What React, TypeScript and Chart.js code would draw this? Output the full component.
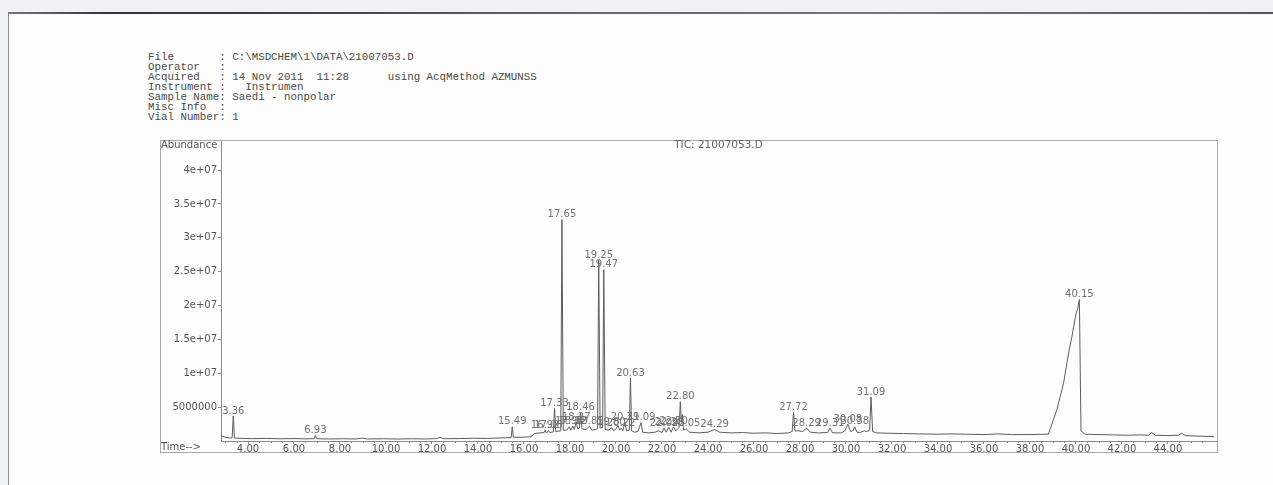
import React, { useEffect, useRef } from 'react';
import { Chart, registerables } from 'chart.js';

Chart.register(...registerables);

// Report header printed above the chromatogram
const headerLines = [
  'File       : C:\\MSDCHEM\\1\\DATA\\21007053.D',
  'Operator   :',
  'Acquired   : 14 Nov 2011  11:28      using AcqMethod AZMUNSS',
  'Instrument :   Instrumen',
  'Sample Name: Saedi - nonpolar',
  'Misc Info  :',
  'Vial Number: 1',
];

const chartTitle = 'TIC: 21007053.D';
const yAxisTitle = 'Abundance';
const xAxisTitle = 'Time-->';

// Total ion current trace: retention time (min) and abundance (counts)
const retentionTimes = [
  2.83, 3.0, 3.2, 3.31, 3.36, 3.41, 3.7, 4.2, 4.8, 5.4, 6.0, 6.5, 6.88, 6.93, 6.98,
  7.5, 8.1, 8.7, 8.95, 9.2, 9.9, 10.5, 11.1, 11.7, 12.2, 12.35, 12.5, 13.2, 13.8, 14.4,
  15.0, 15.44, 15.49, 15.54, 15.9, 16.3, 16.45, 16.7, 16.87, 16.92, 16.97, 17.01, 17.06, 17.12,
  17.28, 17.33, 17.38, 17.6, 17.65, 17.71, 17.86, 17.97, 18.04, 18.12, 18.19, 18.27, 18.34,
  18.41, 18.46, 18.52, 18.7, 18.85, 18.95, 19.1, 19.2, 19.25, 19.31, 19.42, 19.47, 19.53,
  19.7, 19.8, 19.9, 20.0, 20.09, 20.16, 20.22, 20.3, 20.39, 20.46, 20.58, 20.63, 20.68,
  20.8, 20.95, 21.09, 21.16, 21.4, 21.7, 21.85, 22.0, 22.09, 22.18, 22.3, 22.4, 22.5, 22.6,
  22.74, 22.8, 22.84, 22.88, 22.94, 23.05, 23.2, 23.6, 24.0, 24.29, 24.5, 25.0, 25.5, 26.0,
  26.5, 27.0, 27.5, 27.66, 27.72, 27.78, 27.95, 28.12, 28.29, 28.45, 28.8, 29.2, 29.31,
  29.42, 29.8, 29.95, 30.08, 30.2, 30.3, 30.38, 30.48, 30.6, 30.8, 30.9, 31.03, 31.09,
  31.16, 31.3, 31.8, 32.5, 33.2, 34.0, 34.6, 35.2, 36.0, 36.6, 37.2, 38.0, 38.8, 39.17,
  39.46, 39.68, 39.82, 39.99, 40.08, 40.15, 40.22, 40.4, 41.0, 41.6, 42.2, 42.8, 43.15,
  43.3, 43.45, 44.0, 44.45, 44.6, 44.75, 45.3, 46.0,
];

const abundances = [
  7.5e5, 5.5e5, 4.5e5, 4.5e5, 3.7e6, 4.5e5, 3.8e5, 3.5e5, 3.8e5, 3.3e5, 3.6e5, 3.2e5, 3.4e5, 8.0e5, 3.4e5,
  3.0e5, 3.3e5, 3.0e5, 4.2e5, 3.0e5, 3.3e5, 2.9e5, 3.3e5, 3.0e5, 3.6e5, 5.5e5, 3.4e5, 3.6e5, 4.0e5, 3.8e5,
  4.5e5, 5.0e5, 2.1e6, 5.5e5, 5.5e5, 6.2e5, 1.1e6, 1.2e6, 1.25e6, 1.6e6, 1.2e6, 1.25e6, 1.55e6, 1.25e6,
  1.35e6, 4.8e6, 1.4e6, 1.5e6, 3.27e7, 1.6e6, 1.6e6, 2.1e6, 1.6e6, 2.2e6, 1.7e6, 2.8e6, 1.8e6,
  1.9e6, 4.2e6, 1.8e6, 1.7e6, 2.2e6, 1.6e6, 1.7e6, 1.8e6, 2.67e7, 1.9e6, 2.0e6, 2.53e7, 1.7e6,
  1.6e6, 2.0e6, 1.5e6, 1.8e6, 2.3e6, 1.6e6, 1.9e6, 1.5e6, 2.8e6, 1.5e6, 1.6e6, 9.3e6, 1.5e6,
  1.3e6, 1.4e6, 2.7e6, 1.3e6, 1.2e6, 1.3e6, 1.5e6, 1.25e6, 1.9e6, 1.3e6, 2.0e6, 1.3e6, 2.1e6, 1.5e6,
  2.0e6, 5.8e6, 2.8e6, 3.9e6, 1.6e6, 1.8e6, 1.3e6, 1.2e6, 1.3e6, 1.7e6, 1.3e6, 1.2e6, 1.25e6, 1.15e6,
  1.2e6, 1.1e6, 1.2e6, 1.4e6, 4.2e6, 1.5e6, 1.5e6, 1.4e6, 1.9e6, 1.3e6, 1.2e6, 1.25e6, 1.9e6,
  1.2e6, 1.2e6, 1.5e6, 2.5e6, 1.4e6, 1.5e6, 2.1e6, 1.3e6, 1.25e6, 1.5e6, 1.4e6, 1.6e6, 6.5e6,
  1.4e6, 1.2e6, 1.15e6, 1.1e6, 1.05e6, 1.0e6, 1.05e6, 1.0e6, 9.5e5, 1.05e6, 9.5e5, 9.5e5, 1.0e6, 4.6e6,
  8.5e6, 1.3e7, 1.53e7, 1.86e7, 1.96e7, 2.09e7, 1.5e6, 1.0e6, 9.5e5, 9.0e5, 8.5e5, 9.0e5, 8.5e5,
  1.25e6, 8.5e5, 8.0e5, 8.5e5, 1.15e6, 8.0e5, 7.2e5, 6.5e5,
];

// Retention times printed above integrated peaks
const peakLabels = [
  '3.36', '6.93', '15.49', '16.92', '17.06', '17.33', '17.65', '17.97', '18.12', '18.27',
  '18.46', '18.85', '19.25', '19.47', '19.80', '20.22', '20.39', '20.63', '21.09', '22.09',
  '22.30', '22.50', '22.80', '23.05', '24.29', '27.72', '28.29', '29.31', '30.08', '30.38',
  '31.09', '40.15',
];

const xTickLabels = [
  '4.00', '6.00', '8.00', '10.00', '12.00', '14.00', '16.00', '18.00', '20.00', '22.00', '24.00',
  '26.00', '28.00', '30.00', '32.00', '34.00', '36.00', '38.00', '40.00', '42.00', '44.00',
];
const yTickValues = [5e6, 1e7, 1.5e7, 2e7, 2.5e7, 3e7, 3.5e7, 4e7];
const yTickLabels = ['5000000', '1e+07', '1.5e+07', '2e+07', '2.5e+07', '3e+07', '3.5e+07', '4e+07'];

const X_MIN = 2.826;
const X_MAX = 46.09;
const Y_MAX = 4.43e7;
const MINOR_STEP = 0.5;

const FONT = '"DejaVu Sans", "Liberation Sans", sans-serif';
const INK = '#555';

const reportPlugin = {
  id: 'reportDecor',
  beforeDraw(chart: any) {
    const { ctx, width, height, chartArea } = chart;
    ctx.save();
    ctx.fillStyle = '#fdfdfd';
    ctx.fillRect(0, 0, width, height);
    ctx.strokeStyle = '#a9a9a9';
    ctx.lineWidth = 1;
    ctx.strokeRect(0.5, 0.5, width - 1, height - 1);
    ctx.fillStyle = INK;
    ctx.font = `10px ${FONT}`;
    ctx.textAlign = 'left';
    ctx.textBaseline = 'middle';
    ctx.fillText(yAxisTitle, 1, 5);
    ctx.fillText(xAxisTitle, 1, chartArea.bottom + 6);
    ctx.textAlign = 'center';
    ctx.fillStyle = '#666';
    ctx.font = `10.5px ${FONT}`;
    ctx.fillText(chartTitle, (chartArea.left + chartArea.right) / 2, 5);
    ctx.restore();
  },
  afterDatasetsDraw(chart: any) {
    const { ctx } = chart;
    const meta = chart.getDatasetMeta(0);
    ctx.save();
    ctx.fillStyle = '#727272';
    ctx.font = `10px ${FONT}`;
    ctx.textAlign = 'center';
    ctx.textBaseline = 'bottom';
    peakLabels.forEach((label) => {
      const i = retentionTimes.indexOf(parseFloat(label));
      if (i < 0) return;
      const pt = meta.data[i];
      ctx.fillText(label, pt.x, pt.y);
    });
    ctx.restore();
  },
  afterDraw(chart: any) {
    const { ctx, chartArea } = chart;
    const xs = chart.scales.x;
    ctx.save();
    ctx.strokeStyle = '#888';
    ctx.lineWidth = 1;
    ctx.beginPath();
    for (let k = Math.ceil(xs.min / MINOR_STEP); k <= Math.floor(xs.max / MINOR_STEP); k++) {
      const t = k * MINOR_STEP;
      if (t % 2 === 0) continue;
      const px = Math.round(xs.getPixelForValue(t)) + 0.5;
      ctx.moveTo(px, chartArea.bottom);
      ctx.lineTo(px, chartArea.bottom + 2);
    }
    ctx.stroke();
    ctx.restore();
  },
};

export default function App() {
  const canvasRef = useRef<HTMLCanvasElement>(null);

  useEffect(() => {
    const canvas = canvasRef.current;
    if (!canvas) return;
    const chart = new Chart(canvas, {
      type: 'line',
      data: {
        datasets: [
          {
            data: retentionTimes.map((t, i) => ({ x: t, y: abundances[i] })),
            borderColor: '#5e5e5e',
            borderWidth: 1,
            pointRadius: 0,
            tension: 0,
            fill: false,
          },
        ],
      },
      options: {
        responsive: false,
        animation: false,
        events: [],
        layout: { padding: { top: 1, right: 2, left: 0, bottom: 0 } },
        plugins: {
          legend: { display: false },
          tooltip: { enabled: false },
          title: { display: false },
        },
        scales: {
          x: {
            type: 'linear',
            min: X_MIN,
            max: X_MAX,
            afterBuildTicks: (scale: any) => {
              scale.ticks = xTickLabels.map((l) => ({ value: parseFloat(l) }));
            },
            afterFit: (scale: any) => {
              scale.height = 12;
              scale.paddingLeft = 0;
              scale.paddingRight = 0;
            },
            grid: { display: true, drawOnChartArea: false, drawTicks: true, tickLength: 3, color: '#888' },
            border: { display: true, color: '#8a8a8a', width: 1 },
            ticks: {
              autoSkip: false,
              maxRotation: 0,
              minRotation: 0,
              padding: -1,
              color: INK,
              font: { family: FONT, size: 10 },
              callback: (_v: any, i: number) => xTickLabels[i],
            },
          },
          y: {
            type: 'linear',
            min: 0,
            max: Y_MAX,
            afterBuildTicks: (scale: any) => {
              scale.ticks = yTickValues.map((v) => ({ value: v }));
            },
            afterFit: (scale: any) => {
              scale.width = 61;
              scale.paddingTop = 0;
              scale.paddingBottom = 0;
            },
            grid: { display: true, drawOnChartArea: false, drawTicks: true, tickLength: 3, color: '#888' },
            border: { display: true, color: '#8a8a8a', width: 1 },
            ticks: {
              autoSkip: false,
              padding: 1,
              color: INK,
              font: { family: FONT, size: 10 },
              callback: (_v: any, i: number) => yTickLabels[i],
            },
          },
        },
      },
      plugins: [reportPlugin],
    } as any);
    return () => chart.destroy();
  }, []);

  return (
    <div
      style={{
        position: 'absolute',
        left: 0,
        top: 0,
        width: 1273,
        height: 485,
        overflow: 'hidden',
        background: '#eef2f6',
      }}
    >
      <div
        style={{
          position: 'absolute',
          left: 8,
          top: 13,
          width: 1265,
          height: 472,
          background: '#fdfdfd',
          borderLeft: '1px solid #8d8d8d',
        }}
      />
      <div
        style={{
          position: 'absolute',
          left: 8,
          top: 12,
          width: 1265,
          height: 2,
          background: 'linear-gradient(to right, #777 0%, #333 8%, #444 25%, #666 45%, #777 70%, #555 100%)',
        }}
      />
      <pre
        style={{
          position: 'absolute',
          left: 148,
          top: 52,
          margin: 0,
          fontFamily: '"Liberation Mono", "DejaVu Sans Mono", monospace',
          fontSize: 10.8,
          lineHeight: '10px',
          color: '#4a4a4a',
        }}
      >
        {headerLines.join('\n')}
      </pre>
      <div style={{ position: 'absolute', left: 160, top: 140, width: 1058, height: 313 }}>
        <canvas ref={canvasRef} width={1058} height={313} style={{ display: 'block' }} />
      </div>
    </div>
  );
}
